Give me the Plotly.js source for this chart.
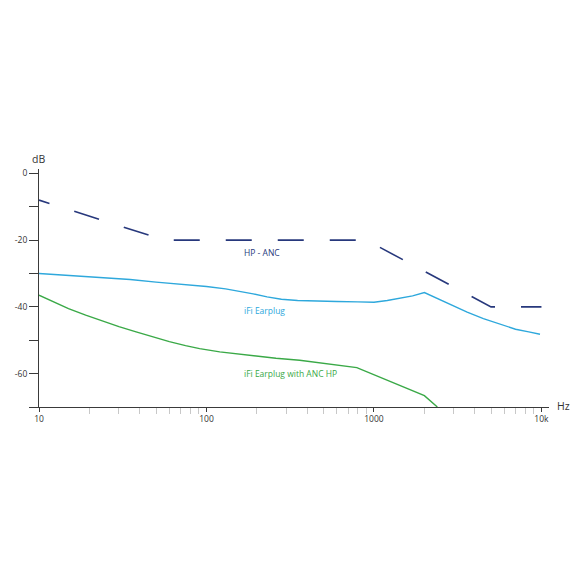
<!DOCTYPE html>
<html>
<head>
<meta charset="utf-8">
<script src="https://cdn.plot.ly/plotly-3.0.1.min.js"></script>
<style>
html,body{margin:0;padding:0;background:#fff;}
#chart{width:580px;height:580px;}
</style>
</head>
<body>
<div id="chart"></div>
<script>
// ---- data ----
var hpAncFreq = [10, 56, 900, 5000, 10000];
var hpAncDb   = [-8, -20, -20, -40, -40];

var earplugFreq = [10, 20, 35, 50, 70, 100, 130, 160, 190, 230, 280, 350, 450, 600, 800, 1000, 1200, 1400, 1700, 2000, 2400, 2800, 3600, 4500, 5600, 7000, 8400, 9800];
var earplugDb   = [-30, -30.9, -31.8, -32.6, -33.2, -33.9, -34.6, -35.3, -36.1, -37.0, -37.7, -38.1, -38.3, -38.4, -38.5, -38.6, -38.1, -37.5, -36.7, -35.7, -37.5, -39.0, -41.6, -43.5, -45.2, -46.7, -47.5, -48.2];

var ancEarplugFreq = [10, 12, 15, 19, 23, 30, 38, 46, 60, 75, 91, 120, 180, 260, 360, 790, 2000, 2390];
var ancEarplugDb   = [-36.5, -38.4, -40.5, -42.5, -44.0, -45.9, -47.5, -48.8, -50.4, -51.6, -52.5, -53.5, -54.6, -55.4, -56.0, -58.2, -66.6, -70];

var xTickVals  = [10, 100, 1000, 10000];
var xTickText  = ['10', '100', '1000', '10k'];
var xMinorVals = [20,30,40,50,60,70,80,90,200,300,400,500,600,700,800,900,2000,3000,4000,5000,6000,7000,8000,9000];
var yTickVals  = [0, -10, -20, -30, -40, -50, -60, -70];
var yTickText  = ['0', '', '-20', '', '-40', '', '-60', ''];

var seriesNames = ['HP - ANC', 'iFi Earplug', 'iFi Earplug with ANC HP'];

// ---- styling ----
var navy = '#27387c', blue = '#2ea8dc', green = '#3aa947';
var dashParts = ['11px', '26px'];
for (var i = 0; i < 24; i++) dashParts.push('26px');
var dashStr = dashParts.join(',');
var fontFam = '"Open Sans", "Noto Sans", sans-serif';

var traces = [
  {x: hpAncFreq, y: hpAncDb, mode: 'lines', name: seriesNames[0],
   line: {color: navy, width: 1.6, dash: dashStr}},
  {x: earplugFreq, y: earplugDb, mode: 'lines', name: seriesNames[1],
   line: {color: blue, width: 1.4}},
  {x: ancEarplugFreq, y: ancEarplugDb, mode: 'lines', name: seriesNames[2],
   line: {color: green, width: 1.4}}
];

var layout = {
  width: 580, height: 580,
  margin: {l: 39, r: 31, t: 169, b: 173},
  paper_bgcolor: '#fff', plot_bgcolor: '#fff',
  showlegend: false, hovermode: false,
  font: {family: fontFam, size: 8.5, color: '#333'},
  xaxis: {
    type: 'log', range: [1, 4.045],
    showgrid: false, zeroline: false,
    showline: true, linecolor: '#3a3a3a', linewidth: 1,
    tickmode: 'array', tickvals: xTickVals, ticktext: xTickText,
    ticks: 'outside', ticklen: 4, tickcolor: '#3a3a3a', tickwidth: 1,
    tickfont: {size: 8.5, color: '#333', family: fontFam},
    minor: {tickmode: 'array', tickvals: xMinorVals, ticks: 'outside', ticklen: 6, tickcolor: '#c8c8c8', tickwidth: 1, showgrid: false}
  },
  yaxis: {
    range: [-70, 1.3],
    showgrid: false, zeroline: false,
    showline: true, linecolor: '#3a3a3a', linewidth: 1,
    tickmode: 'array', tickvals: yTickVals, ticktext: yTickText,
    ticks: 'outside', ticklen: 9, tickcolor: '#3a3a3a', tickwidth: 1,
    tickfont: {size: 8.5, color: '#333', family: fontFam}
  },
  annotations: [
    {text: seriesNames[0], x: 2.21, y: -23.85, xref: 'x', yref: 'y', xanchor: 'left', yanchor: 'middle', showarrow: false,
     font: {size: 8.5, color: navy, family: fontFam}},
    {text: seriesNames[1], x: 2.21, y: -41.0, xref: 'x', yref: 'y', xanchor: 'left', yanchor: 'middle', showarrow: false,
     font: {size: 8.5, color: blue, family: fontFam}},
    {text: seriesNames[2], x: 2.21, y: -60.0, xref: 'x', yref: 'y', xanchor: 'left', yanchor: 'middle', showarrow: false,
     font: {size: 8.5, color: green, family: fontFam}},
    {text: 'dB', x: (38 - 39) / 510, y: (407 - 159) / 238, xref: 'paper', yref: 'paper', xanchor: 'center', yanchor: 'middle', showarrow: false,
     font: {size: 10.5, color: '#333', family: fontFam}},
    {text: 'Hz', x: (555 - 39) / 510, y: (407 - 406) / 238, xref: 'paper', yref: 'paper', xanchor: 'left', yanchor: 'middle', showarrow: false,
     font: {size: 10.5, color: '#333', family: fontFam}}
  ]
};

Plotly.newPlot('chart', traces, layout, {displayModeBar: false, staticPlot: true});
</script>
</body>
</html>
